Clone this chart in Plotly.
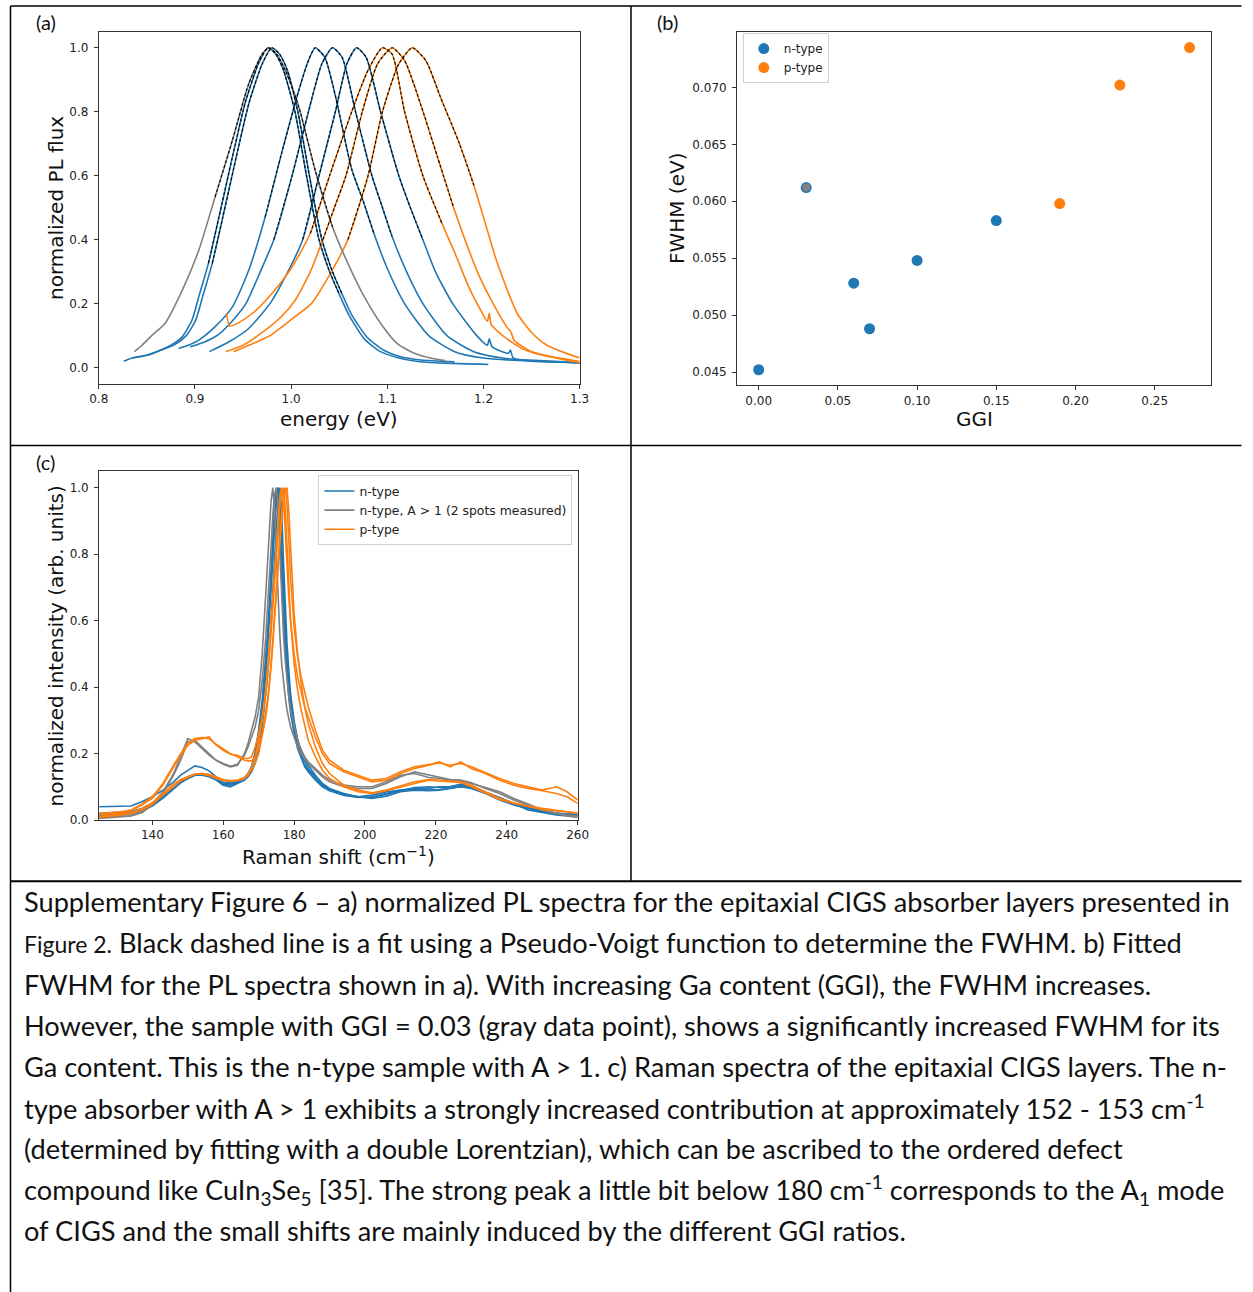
import plotly.graph_objects as go

W, H = 1253, 1292
BLUE, ORANGE, GRAY = "#1f77b4", "#ff7f0e", "#808080"

# ---------------- panel (a): normalized PL spectra ----------------
pl_b1_e = [0.826, 0.835, 0.845, 0.86, 0.875, 0.887, 0.897, 0.904, 0.914, 0.925, 0.939, 0.952, 0.966, 0.976, 0.984, 0.992, 1.004, 1.016, 1.029, 1.04, 1.05, 1.06, 1.076, 1.093, 1.11, 1.13, 1.16, 1.205]
pl_b1_v = [0.02, 0.03, 0.035, 0.05, 0.07, 0.097, 0.149, 0.222, 0.326, 0.471, 0.659, 0.825, 0.95, 1.0, 0.98, 0.93, 0.8, 0.6, 0.4, 0.30, 0.23, 0.165, 0.09, 0.05, 0.032, 0.02, 0.014, 0.01]
pl_b2_e = [0.834, 0.842, 0.852, 0.865, 0.879, 0.891, 0.901, 0.908, 0.918, 0.929, 0.943, 0.956, 0.97, 0.98, 0.988, 0.996, 1.007, 1.019, 1.032, 1.043, 1.053, 1.063, 1.079, 1.096, 1.113, 1.135, 1.17]
pl_b2_v = [0.03, 0.035, 0.04, 0.055, 0.072, 0.1, 0.15, 0.222, 0.326, 0.471, 0.659, 0.825, 0.95, 1.0, 0.98, 0.93, 0.8, 0.6, 0.4, 0.3, 0.23, 0.165, 0.095, 0.055, 0.035, 0.024, 0.018]
pl_b3_e = [0.883, 0.893, 0.904, 0.921, 0.939, 0.956, 0.973, 0.99, 1.008, 1.018, 1.025, 1.035, 1.046, 1.063, 1.075, 1.086, 1.10, 1.118, 1.143, 1.17, 1.2, 1.25, 1.3]
pl_b3_v = [0.06, 0.07, 0.086, 0.128, 0.19, 0.305, 0.471, 0.669, 0.867, 0.96, 1.0, 0.97, 0.85, 0.62, 0.52, 0.42, 0.31, 0.2, 0.1, 0.05, 0.03, 0.02, 0.015]
pl_b4_e = [0.895, 0.91, 0.925, 0.94, 0.953, 0.968, 0.982, 1.001, 1.018, 1.032, 1.043, 1.053, 1.067, 1.084, 1.095, 1.105, 1.12, 1.137, 1.162, 1.19, 1.22, 1.26, 1.3]
pl_b4_v = [0.065, 0.08, 0.105, 0.15, 0.2, 0.3, 0.4, 0.6, 0.8, 0.95, 1.0, 0.97, 0.8, 0.6, 0.5, 0.41, 0.3, 0.2, 0.1, 0.05, 0.03, 0.02, 0.015]
pl_b5_e = [0.915, 0.935, 0.955, 0.978, 0.995, 1.012, 1.029, 1.046, 1.058, 1.068, 1.078, 1.093, 1.112, 1.124, 1.137, 1.15, 1.168, 1.193, 1.204, 1.206, 1.209, 1.226, 1.228, 1.231, 1.26, 1.3]
pl_b5_v = [0.05, 0.08, 0.12, 0.2, 0.29, 0.4, 0.6, 0.8, 0.95, 1.0, 0.97, 0.8, 0.6, 0.5, 0.4, 0.3, 0.2, 0.1, 0.07, 0.09, 0.065, 0.045, 0.055, 0.03, 0.022, 0.015]
pl_o1_e = [0.933, 0.936, 0.945, 0.96, 0.98, 1.0, 1.02, 1.04, 1.063, 1.08, 1.095, 1.105, 1.118, 1.137, 1.157, 1.17, 1.185, 1.197, 1.204, 1.206, 1.208, 1.22, 1.24, 1.26, 1.3]
pl_o1_v = [0.17, 0.13, 0.14, 0.17, 0.232, 0.31, 0.42, 0.6, 0.8, 0.93, 1.0, 0.98, 0.8, 0.6, 0.45, 0.36, 0.25, 0.18, 0.145, 0.17, 0.135, 0.1, 0.06, 0.04, 0.015]
pl_o2_e = [0.932, 0.95, 0.97, 0.99, 1.004, 1.02, 1.033, 1.045, 1.057, 1.074, 1.09, 1.105, 1.118, 1.135, 1.152, 1.169, 1.182, 1.195, 1.21, 1.226, 1.228, 1.232, 1.25, 1.27, 1.3]
pl_o2_v = [0.05, 0.07, 0.11, 0.16, 0.21, 0.3, 0.4, 0.5, 0.6, 0.8, 0.95, 1.0, 0.96, 0.82, 0.66, 0.5, 0.39, 0.29, 0.2, 0.12, 0.115, 0.085, 0.05, 0.035, 0.02]
pl_o3_e = [0.94, 0.96, 0.978, 1.0, 1.021, 1.04, 1.059, 1.08, 1.095, 1.112, 1.126, 1.14, 1.156, 1.175, 1.19, 1.202, 1.214, 1.235, 1.25, 1.266, 1.3]
pl_o3_v = [0.05, 0.075, 0.1, 0.15, 0.2, 0.29, 0.4, 0.6, 0.8, 0.95, 1.0, 0.96, 0.84, 0.7, 0.57, 0.45, 0.33, 0.17, 0.11, 0.07, 0.03]
pl_g_e = [0.837, 0.845, 0.855, 0.869, 0.887, 0.904, 0.921, 0.939, 0.956, 0.97, 0.977, 0.985, 0.994, 1.008, 1.025, 1.043, 1.059, 1.076, 1.093, 1.11, 1.128, 1.145, 1.16]
pl_g_v = [0.05, 0.07, 0.10, 0.139, 0.243, 0.367, 0.534, 0.711, 0.888, 0.981, 1.0, 0.98, 0.929, 0.815, 0.617, 0.44, 0.326, 0.222, 0.139, 0.076, 0.045, 0.03, 0.022]

# Pseudo-Voigt fit windows (eV) for each spectrum, in drawing order
fit_lo = [0.905, 0.91, 0.96, 0.975, 1.0, 1.02, 1.03, 1.05, 0.915]
fit_hi = [1.05, 1.055, 1.086, 1.105, 1.137, 1.157, 1.169, 1.19, 1.045]

# ---------------- panel (b): FWHM vs GGI ----------------
ggi_n = [0.00, 0.03, 0.06, 0.07, 0.10, 0.15]
fwhm_n = [0.0452, 0.0612, 0.0528, 0.0488, 0.0548, 0.0583]
ggi_p = [0.19, 0.228, 0.272]
fwhm_p = [0.0598, 0.0702, 0.0735]
ggi_gray = [0.03]
fwhm_gray = [0.0612]

# ---------------- panel (c): Raman spectra ----------------
r_shift = [125, 128, 131, 134, 137, 140, 143, 146, 148, 150, 152, 154, 156, 158, 160, 162, 164, 166, 167, 168, 169, 170, 171, 172,
           172.5, 173, 173.5, 174, 174.5, 175, 175.5, 176, 176.5, 177, 177.5, 178, 178.5, 179,
           180, 181, 182, 183, 184, 186, 188, 190, 194, 198, 202, 206, 210, 214, 218,
           221, 224, 227, 230, 234, 238, 242, 246, 250, 254, 257, 260]
r_blue_a = [0.04, 0.04, 0.04, 0.042, 0.055, 0.07, 0.09, 0.115, 0.135, 0.15, 0.163, 0.158, 0.148, 0.13, 0.113, 0.108, 0.115, 0.128, 0.14, 0.16, 0.2, 0.26, 0.34, 0.45,
            0.53, 0.61, 0.7, 0.8, 0.9, 0.97, 1.0, 0.95, 0.82, 0.68, 0.57, 0.48, 0.41, 0.36,
            0.29, 0.24, 0.21, 0.185, 0.165, 0.135, 0.11, 0.095, 0.08, 0.07, 0.075, 0.085, 0.09, 0.095, 0.095,
            0.1, 0.1, 0.105, 0.1, 0.08, 0.062, 0.048, 0.035, 0.025, 0.02, 0.018, 0.018]
r_blue_b = [0.015, 0.018, 0.02, 0.02, 0.03, 0.045, 0.07, 0.1, 0.118, 0.13, 0.138, 0.14, 0.135, 0.125, 0.112, 0.112, 0.118, 0.125, 0.135, 0.155, 0.19, 0.25, 0.33, 0.44,
            0.52, 0.6, 0.69, 0.79, 0.89, 0.97, 1.0, 0.94, 0.8, 0.66, 0.55, 0.46, 0.39, 0.34,
            0.27, 0.22, 0.19, 0.165, 0.15, 0.125, 0.105, 0.09, 0.075, 0.068, 0.07, 0.08, 0.09, 0.093, 0.09,
            0.092, 0.095, 0.1, 0.095, 0.08, 0.06, 0.045, 0.035, 0.025, 0.018, 0.015, 0.015]
r_blue_c = [0.012, 0.012, 0.015, 0.018, 0.028, 0.042, 0.066, 0.095, 0.112, 0.125, 0.135, 0.138, 0.132, 0.122, 0.108, 0.105, 0.112, 0.12, 0.13, 0.145, 0.17, 0.21, 0.28, 0.37,
            0.43, 0.51, 0.6, 0.7, 0.8, 0.9, 0.97, 1.0, 0.93, 0.78, 0.64, 0.53, 0.45, 0.38,
            0.3, 0.24, 0.2, 0.175, 0.155, 0.13, 0.108, 0.092, 0.078, 0.07, 0.068, 0.078, 0.088, 0.098, 0.1,
            0.098, 0.1, 0.108, 0.1, 0.085, 0.068, 0.05, 0.038, 0.028, 0.02, 0.017, 0.016]
r_blue_d = [0.02, 0.022, 0.022, 0.025, 0.035, 0.05, 0.075, 0.1, 0.115, 0.125, 0.135, 0.135, 0.13, 0.12, 0.105, 0.1, 0.11, 0.12, 0.135, 0.16, 0.2, 0.27, 0.36, 0.48,
            0.56, 0.65, 0.75, 0.86, 0.95, 1.0, 0.96, 0.85, 0.71, 0.59, 0.5, 0.43, 0.37, 0.32,
            0.26, 0.215, 0.185, 0.16, 0.145, 0.12, 0.1, 0.088, 0.075, 0.07, 0.065, 0.072, 0.085, 0.09, 0.088,
            0.09, 0.095, 0.1, 0.098, 0.082, 0.065, 0.05, 0.03, 0.022, 0.015, 0.012, 0.012]
r_gray_a = [0.01, 0.01, 0.012, 0.013, 0.025, 0.05, 0.085, 0.14, 0.19, 0.245, 0.235, 0.215, 0.195, 0.18, 0.168, 0.16, 0.165, 0.2, 0.23, 0.27, 0.31, 0.37, 0.5, 0.68,
            0.77, 0.87, 0.96, 1.0, 0.93, 0.8, 0.66, 0.55, 0.47, 0.41, 0.37, 0.33, 0.3, 0.28,
            0.25, 0.22, 0.2, 0.185, 0.17, 0.15, 0.13, 0.115, 0.1, 0.095, 0.095, 0.11, 0.13, 0.145, 0.135,
            0.128, 0.122, 0.12, 0.112, 0.095, 0.08, 0.06, 0.045, 0.03, 0.02, 0.012, 0.008]
r_gray_b = [0.005, 0.008, 0.01, 0.012, 0.022, 0.045, 0.08, 0.135, 0.18, 0.235, 0.24, 0.22, 0.2, 0.18, 0.17, 0.162, 0.168, 0.195, 0.22, 0.25, 0.28, 0.33, 0.42, 0.55,
            0.63, 0.72, 0.82, 0.92, 0.98, 1.0, 0.93, 0.8, 0.66, 0.56, 0.48, 0.42, 0.37, 0.33,
            0.28, 0.24, 0.21, 0.19, 0.175, 0.155, 0.135, 0.12, 0.105, 0.1, 0.1, 0.115, 0.135, 0.14, 0.128,
            0.125, 0.12, 0.118, 0.11, 0.098, 0.085, 0.065, 0.048, 0.03, 0.02, 0.015, 0.012]
r_orange_a = [0.015, 0.018, 0.022, 0.028, 0.045, 0.065, 0.105, 0.16, 0.195, 0.225, 0.24, 0.245, 0.25, 0.225, 0.21, 0.198, 0.195, 0.185, 0.185, 0.19, 0.22, 0.26, 0.31, 0.39,
              0.45, 0.52, 0.6, 0.68, 0.76, 0.84, 0.92, 0.98, 1.0, 0.96, 0.87, 0.76, 0.67, 0.6,
              0.5, 0.43, 0.38, 0.34, 0.31, 0.25, 0.2, 0.17, 0.145, 0.13, 0.115, 0.12, 0.14, 0.155, 0.165,
              0.175, 0.16, 0.175, 0.155, 0.14, 0.12, 0.105, 0.095, 0.088, 0.08, 0.07, 0.05]
r_orange_b = [0.02, 0.022, 0.025, 0.03, 0.048, 0.07, 0.11, 0.165, 0.2, 0.23, 0.245, 0.248, 0.245, 0.228, 0.215, 0.2, 0.19, 0.18, 0.178, 0.178, 0.19, 0.22, 0.26, 0.32,
              0.36, 0.41, 0.47, 0.54, 0.62, 0.7, 0.78, 0.86, 0.93, 0.98, 1.0, 0.95, 0.84, 0.73,
              0.58, 0.49, 0.43, 0.38, 0.34, 0.27, 0.21, 0.18, 0.15, 0.135, 0.12, 0.125, 0.145, 0.16, 0.168,
              0.172, 0.165, 0.17, 0.16, 0.142, 0.125, 0.11, 0.1, 0.09, 0.1, 0.085, 0.06]
r_orange_c = [0.008, 0.012, 0.016, 0.019, 0.03, 0.048, 0.075, 0.102, 0.118, 0.128, 0.137, 0.14, 0.138, 0.13, 0.122, 0.118, 0.12, 0.128, 0.14, 0.158, 0.19, 0.24, 0.3, 0.38,
              0.43, 0.49, 0.56, 0.64, 0.72, 0.8, 0.88, 0.95, 0.99, 1.0, 0.94, 0.82, 0.7, 0.6,
              0.47, 0.39, 0.33, 0.28, 0.24, 0.19, 0.15, 0.125, 0.1, 0.085, 0.08, 0.088, 0.1, 0.11, 0.12,
              0.118, 0.115, 0.113, 0.1, 0.08, 0.062, 0.05, 0.04, 0.032, 0.027, 0.024, 0.022]
r_orange_d = [0.01, 0.014, 0.018, 0.022, 0.034, 0.052, 0.08, 0.108, 0.122, 0.13, 0.138, 0.138, 0.134, 0.125, 0.118, 0.116, 0.118, 0.125, 0.135, 0.15, 0.17, 0.2, 0.25, 0.31,
              0.35, 0.4, 0.46, 0.53, 0.6, 0.68, 0.76, 0.84, 0.91, 0.96, 0.99, 1.0, 0.93, 0.82,
              0.62, 0.5, 0.41, 0.34, 0.29, 0.22, 0.17, 0.14, 0.105, 0.09, 0.082, 0.09, 0.102, 0.115, 0.122,
              0.12, 0.118, 0.115, 0.105, 0.085, 0.065, 0.052, 0.042, 0.035, 0.03, 0.025, 0.02]

legend_labels_c = ["n-type", "n-type, A > 1 (2 spots measured)", "p-type"]
legend_labels_b = ["n-type", "p-type"]

caption_lines = [
    "Supplementary Figure 6 – a) normalized PL spectra for the epitaxial CIGS absorber layers presented in",
    "<span style='font-size:23px'>Figure 2.</span> Black dashed line is a fit using a Pseudo-Voigt function to determine the FWHM. b) Fitted",
    "FWHM for the PL spectra shown in a). With increasing Ga content (GGI), the FWHM increases.",
    "However, the sample with GGI = 0.03 (gray data point), shows a significantly increased FWHM for its",
    "Ga content. This is the n-type sample with A > 1. c) Raman spectra of the epitaxial CIGS layers. The n-",
    "type absorber with A > 1 exhibits a strongly increased contribution at approximately 152 - 153 cm<sup>-1</sup>",
    "(determined by fitting with a double Lorentzian), which can be ascribed to the ordered defect",
    "compound like CuIn<sub>3</sub>Se<sub>5</sub> [35]. The strong peak a little bit below 180 cm<sup>-1</sup> corresponds to the A<sub>1</sub> mode",
    "of CIGS and the small shifts are mainly induced by the different GGI ratios.",
]

# ------------------------------------------------------------------
fig = go.Figure()

pl_curves = [
    (pl_b1_e, pl_b1_v, BLUE), (pl_b2_e, pl_b2_v, BLUE), (pl_b3_e, pl_b3_v, BLUE),
    (pl_b4_e, pl_b4_v, BLUE), (pl_b5_e, pl_b5_v, BLUE),
    (pl_o1_e, pl_o1_v, ORANGE), (pl_o2_e, pl_o2_v, ORANGE), (pl_o3_e, pl_o3_v, ORANGE),
    (pl_g_e, pl_g_v, GRAY),
]
for e, v, c in pl_curves:
    fig.add_trace(go.Scatter(x=e, y=v, mode="lines", xaxis="x", yaxis="y",
                             line=dict(color=c, width=1.6, shape="spline", smoothing=0.6),
                             showlegend=False, hoverinfo="skip"))
for (e, v, c), lo, hi in zip(pl_curves, fit_lo, fit_hi):
    fe = [a for a in e if lo <= a <= hi]
    fv = [b for a, b in zip(e, v) if lo <= a <= hi]
    fig.add_trace(go.Scatter(x=fe, y=fv, mode="lines", xaxis="x", yaxis="y",
                             line=dict(color="black", width=1.1, dash="3px,2px", shape="spline", smoothing=0.6),
                             showlegend=False, hoverinfo="skip"))

# panel b
fig.add_trace(go.Scatter(x=ggi_n, y=fwhm_n, mode="markers", xaxis="x2", yaxis="y2",
                         marker=dict(color=BLUE, size=11), name=legend_labels_b[0], legend="legend"))
fig.add_trace(go.Scatter(x=ggi_p, y=fwhm_p, mode="markers", xaxis="x2", yaxis="y2",
                         marker=dict(color=ORANGE, size=11), name=legend_labels_b[1], legend="legend"))
fig.add_trace(go.Scatter(x=ggi_gray, y=fwhm_gray, mode="markers", xaxis="x2", yaxis="y2",
                         marker=dict(color=GRAY, size=8), showlegend=False))

# panel c
raman = [
    (r_blue_a, BLUE, 0), (r_blue_b, BLUE, None), (r_blue_c, BLUE, None), (r_blue_d, BLUE, None),
    (r_gray_a, GRAY, 1), (r_gray_b, GRAY, None),
    (r_orange_a, ORANGE, 2), (r_orange_b, ORANGE, None), (r_orange_c, ORANGE, None), (r_orange_d, ORANGE, None),
]
for vals, c, lab in raman:
    fig.add_trace(go.Scatter(x=r_shift, y=vals, mode="lines", xaxis="x3", yaxis="y3",
                             line=dict(color=c, width=1.6),
                             name=legend_labels_c[lab] if lab is not None else "",
                             showlegend=lab is not None, legend="legend2", hoverinfo="skip"))

# page-pixel helpers (compensate for the capture's slight rescaling)
def px(x):
    xs = (x - 9.1) / 0.9847
    return min(max(xs, 0.5), W - 0.5) / W

def py(y):
    return 1 - (y / 0.9937) / H

axis_common = dict(showline=True, mirror=True, linecolor="#333", linewidth=1, ticks="outside",
                   ticklen=4, tickcolor="#333", tickwidth=1, showgrid=False, zeroline=False,
                   tickfont=dict(family="DejaVu Sans", size=12, color="#222"))
xax = dict(axis_common, ticklabelstandoff=0)
yax = dict(axis_common, ticklabelstandoff=3)

fig.update_layout(
    width=W, height=H, margin=dict(l=0, r=0, t=0, b=0),
    paper_bgcolor="white", plot_bgcolor="white",
    xaxis=dict(domain=[px(98), px(579.6)], range=[0.8, 1.3], anchor="y", dtick=0.1, tickformat=".1f", **xax),
    yaxis=dict(domain=[py(383.3), py(31.7)], range=[-0.05, 1.05], anchor="x", dtick=0.2, tickformat=".1f", **yax),
    xaxis2=dict(domain=[px(737.3), px(1212)], range=[-0.0136, 0.2856], anchor="y2", dtick=0.05, tickformat=".2f", **xax),
    yaxis2=dict(domain=[py(385), py(31.7)], range=[0.04383, 0.07489], anchor="x2", tick0=0.045, dtick=0.005, tickformat=".3f", **yax),
    xaxis3=dict(domain=[px(98.4), px(577.6)], range=[125, 260], anchor="y3", tick0=140, dtick=20, **xax),
    yaxis3=dict(domain=[py(819.3), py(470.7)], range=[0, 1.05], anchor="x3", dtick=0.2, tickformat=".1f", **yax),
    legend=dict(x=px(743), y=py(33), xanchor="left", yanchor="top", bgcolor="rgba(255,255,255,0.8)",
                bordercolor="#d0d0d0", borderwidth=1, font=dict(family="DejaVu Sans", size=12, color="#222"),
                itemwidth=30, tracegroupgap=0),
    legend2=dict(x=px(318), y=py(475), xanchor="left", yanchor="top", bgcolor="rgba(255,255,255,0.8)",
                 bordercolor="#d0d0d0", borderwidth=1, font=dict(family="DejaVu Sans", size=12.4, color="#222"),
                 itemwidth=30, tracegroupgap=0),
)

ann = []
def label(text, x, y, size=20, angle=0, family="DejaVu Sans", xanchor="center"):
    ann.append(dict(text=text, x=px(x), y=py(y), xref="paper", yref="paper", showarrow=False,
                    xanchor=xanchor, yanchor="middle", textangle=angle,
                    font=dict(family=family, size=size, color="#111")))

label("energy (eV)", 339, 419)
label("normalized PL flux", 55, 208, angle=-90)
label("GGI", 975, 419)
label("FWHM (eV)", 677, 208, angle=-90)
label("Raman shift (cm<sup>−1</sup>)", 338, 855)
label("normalized intensity (arb. units)", 55, 645, angle=-90)
label("(a)", 45, 22, size=20, family="Lato")
label("(b)", 668, 22, size=20, family="Lato")
label("(c)", 45, 462, size=20, family="Lato")

for i, line in enumerate(caption_lines):
    label(line, 21, 901 + 41.1 * i, size=27.2, family="Lato", xanchor="left")

fig.update_layout(annotations=ann)

shapes = []
def hline(y, x0, x1, w=1.5):
    shapes.append(dict(type="line", xref="paper", yref="paper", x0=px(x0), x1=px(x1), y0=py(y), y1=py(y),
                       line=dict(color="black", width=w)))
def vline(x, y0, y1, w=1.5):
    shapes.append(dict(type="line", xref="paper", yref="paper", x0=px(x), x1=px(x), y0=py(y0), y1=py(y1),
                       line=dict(color="black", width=w)))
hline(6, 8, 1260)
hline(445, 8, 1260)
hline(880.5, 8, 1260, 2)
vline(8, 6, 1300)
vline(631, 6, 880)
fig.update_layout(shapes=shapes)

fig.write_html("out.html")
